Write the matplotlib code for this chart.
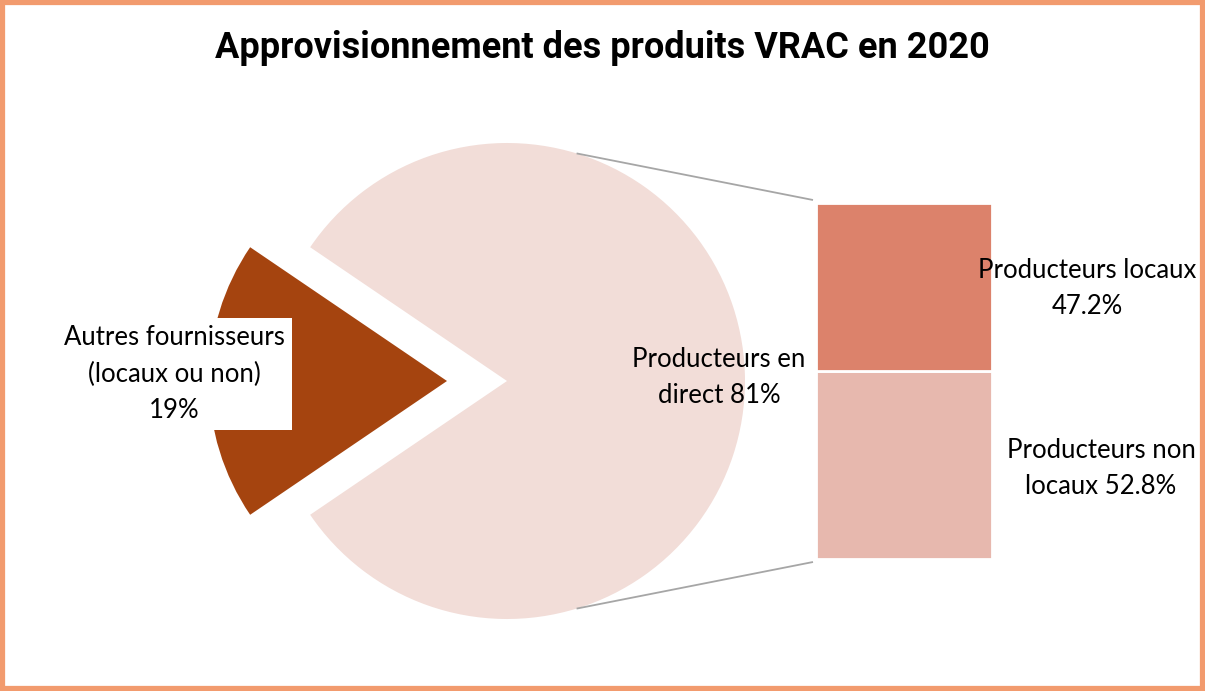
import numpy as np
import matplotlib
matplotlib.use("Agg")
import matplotlib.pyplot as plt
from matplotlib.patches import Rectangle

# ---- data ----
title = "Approvisionnement des produits VRAC en 2020"
pie_labels = ["Autres fournisseurs\n(locaux ou non)\n19%", "Producteurs en\ndirect 81%"]
pie_values = [19, 81]
bar_labels = ["Producteurs non\nlocaux 52.8%", "Producteurs locaux\n47.2%"]
bar_values = [52.8, 47.2]

# ---- styles ----
W, H = 1205, 691
pie_colors = ["#A5440F", "#F2DDD8"]
bar_colors = ["#E7B8AE", "#DC826B"]
border_color = "#F29B6E"
font = "Lato"
fs = 18.5
ls = 1.55

fig = plt.figure(figsize=(W / 100, H / 100), dpi=100)
ax = fig.add_axes([0, 0, 1, 1])

# pie
cx, cy, r = 507, H - 381, 238
half = pie_values[0] / 100 * 360 / 2
wedges, _ = ax.pie(pie_values, colors=pie_colors, startangle=180 - half,
                   counterclock=True, radius=r, center=(cx, cy),
                   explode=[60, 0], wedgeprops=dict(linewidth=0),
                   frame=True)
ax.set_xlim(0, W)
ax.set_ylim(0, H)
ax.set_aspect("equal")
ax.axis("off")

# stacked bar
bx, bw = 904, 176
bottom_px = H - 559
scale = 356 / sum(bar_values)
bottom = bottom_px
for v, c in zip(bar_values, bar_colors):
    ax.bar(bx, v * scale, width=bw, bottom=bottom, color=c,
           edgecolor="white", linewidth=2)
    bottom += v * scale

# connector lines
ang = np.deg2rad(73)
top_y = bottom_px + sum(bar_values) * scale
for s, yb in [(1, top_y + 3), (-1, bottom_px - 3)]:
    x0 = cx + r * np.cos(ang)
    y0 = cy + s * r * np.sin(ang)
    ax.plot([x0, bx - bw / 2 - 3], [y0, yb], color="#A6A6A6", lw=1.3,
            solid_capstyle="butt")

# labels
ax.text(174, H - 374, pie_labels[0], ha="center", va="center",
        fontsize=fs, family=font, linespacing=ls,
        bbox=dict(boxstyle="square,pad=0.3", fc="white", ec="none"))
ax.text(719, H - 377, pie_labels[1], ha="center", va="center",
        fontsize=fs, family=font, linespacing=ls)
ax.text(1101, H - 469, bar_labels[0], ha="center", va="center",
        fontsize=fs, family=font, linespacing=ls)
ax.text(1087, H - 288, bar_labels[1], ha="center", va="center",
        fontsize=fs, family=font, linespacing=ls)

# title
fig.text(602 / W, 1 - 48 / H, title, ha="center", va="center",
         fontsize=26, fontweight="bold", family="Roboto")

# border
fig.patches.append(Rectangle((0.002, 0.003), 0.996, 0.994,
                             transform=fig.transFigure, fill=False,
                             ec=border_color, lw=4.5))

fig.savefig("out.png", dpi=100, facecolor="white")
